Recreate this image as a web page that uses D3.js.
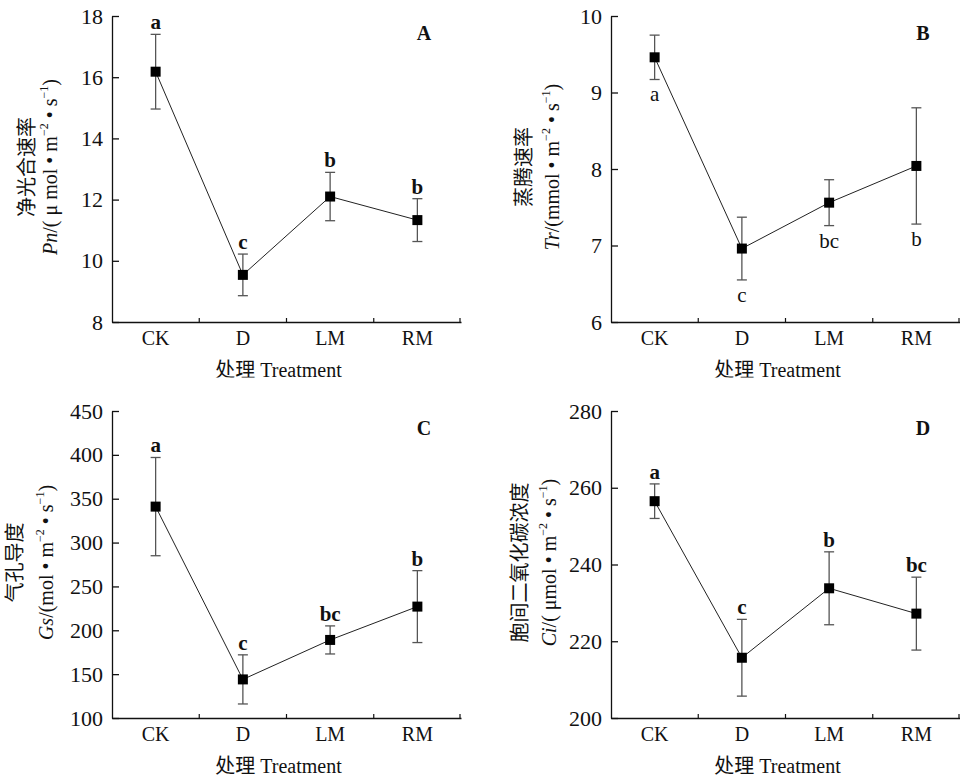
<!DOCTYPE html>
<html>
<head>
<meta charset="utf-8">
<script src="https://cdn.jsdelivr.net/npm/d3@7"></script>
<style>
  body { margin: 0; background: #fff; }
  text { font-family: "Liberation Serif", "Times New Roman", "DejaVu Serif", "Noto Sans CJK SC", serif; fill: #111; }
</style>
</head>
<body>
<div id="chart"></div>
<script>
const categories = ["CK", "D", "LM", "RM"];

// A: net photosynthetic rate
const pnMean = [16.18, 9.54, 12.1, 11.33];
const pnErr = [1.22, 0.68, 0.79, 0.7];
const pnLetters = ["a", "c", "b", "b"];
const pnTicks = [8, 10, 12, 14, 16, 18];

// B: transpiration rate
const trMean = [9.46, 6.96, 7.56, 8.04];
const trErr = [0.29, 0.41, 0.3, 0.76];
const trLetters = ["a", "c", "bc", "b"];
const trTicks = [6, 7, 8, 9, 10];

// C: stomatal conductance
const gsMean = [341, 144, 189, 227];
const gsErr = [56, 28, 16, 41];
const gsLetters = ["a", "c", "bc", "b"];
const gsTicks = [100, 150, 200, 250, 300, 350, 400, 450];

// D: intercellular CO2
const ciMean = [256.5, 215.7, 233.8, 227.2];
const ciErr = [4.5, 10, 9.5, 9.5];
const ciLetters = ["a", "c", "b", "bc"];
const ciTicks = [200, 220, 240, 260, 280];

const width = 960;
const height = 780;

const panels = [
  {id: "A", mean: pnMean, err: pnErr, letters: pnLetters, ticks: pnTicks, below: false,
   left: 112, right: 461, top: 16, bottom: 322, clipY: 377.5,
   zh: "净光合速率", sym: "Pn", unit: "( μ mol • m", lab1x: 27, lab2x: 50},
  {id: "B", mean: trMean, err: trErr, letters: trLetters, ticks: trTicks, below: true,
   left: 611, right: 960, top: 16, bottom: 322, clipY: 377.5,
   zh: "蒸腾速率", sym: "Tr", unit: "(mmol • m", lab1x: 524, lab2x: 552},
  {id: "C", mean: gsMean, err: gsErr, letters: gsLetters, ticks: gsTicks, below: false,
   left: 112, right: 461, top: 411, bottom: 718, clipY: 780,
   zh: "气孔导度", sym: "Gs", unit: "(mol • m", lab1x: 15, lab2x: 46},
  {id: "D", mean: ciMean, err: ciErr, letters: ciLetters, ticks: ciTicks, below: false,
   left: 611, right: 960, top: 411, bottom: 718, clipY: 780,
   zh: "胞间二氧化碳浓度", sym: "Ci", unit: "( μmol • m", lab1x: 520, lab2x: 549}
];

const svg = d3.select("#chart")
  .append("svg")
  .attr("width", width)
  .attr("height", height);

panels.forEach(drawPanel);

function drawPanel(p) {
  const data = categories.map((c, i) => ({cat: c, v: p.mean[i], e: p.err[i], letter: p.letters[i]}));

  const x = d3.scaleBand().domain(categories).range([p.left, p.right]).padding(0);
  const y = d3.scaleLinear().domain(d3.extent(p.ticks)).range([p.bottom, p.top]);
  const cx = d => x(d.cat) + x.bandwidth() / 2;

  const g = svg.append("g");

  // Eixo vertical
  g.append("g")
    .attr("transform", "translate(" + p.left + ",0)")
    .call(d3.axisLeft(y).tickValues(p.ticks).tickFormat(d3.format("d"))
      .tickSizeInner(-7).tickSizeOuter(0).tickPadding(9))
    .call(a => a.selectAll("text").attr("font-size", 22))
    .call(a => a.selectAll("line, path").attr("stroke", "#111").attr("stroke-width", 1.3));

  // Eixo horizontal (labels)
  g.append("g")
    .attr("transform", "translate(0," + p.bottom + ")")
    .call(d3.axisBottom(x).tickSize(0).tickPadding(9))
    .call(a => a.selectAll("text").attr("font-size", 20))
    .call(a => a.select("path").attr("stroke", "#111").attr("stroke-width", 1.3));

  // small inward ticks at category boundaries
  g.append("g")
    .selectAll("line")
    .data(categories.slice(1).map(c => x(c)).concat([x.range()[1] - 1]))
    .join("line")
      .attr("x1", d => d).attr("x2", d => d)
      .attr("y1", p.bottom).attr("y2", p.bottom - 4)
      .attr("stroke", "#111").attr("stroke-width", 1.2);

  // x title, clipped like the source
  const clipId = "clip" + p.id;
  svg.append("clipPath").attr("id", clipId)
    .append("rect").attr("x", 0).attr("y", 0).attr("width", width).attr("height", p.clipY);
  g.append("text")
    .attr("clip-path", "url(#" + clipId + ")")
    .attr("x", (p.left + p.right) / 2 - 8)
    .attr("y", p.bottom + 55)
    .attr("text-anchor", "middle")
    .attr("font-size", 20)
    .text("处理 Treatment");

  // y title, two lines
  const midY = (p.top + p.bottom) / 2 - 2;
  g.append("text")
    .attr("transform", "translate(" + p.lab1x + "," + midY + ") rotate(-90)")
    .attr("text-anchor", "middle")
    .attr("dominant-baseline", "central")
    .attr("font-size", 20)
    .text(p.zh);

  const t2 = g.append("text")
    .attr("transform", "translate(" + p.lab2x + "," + midY + ") rotate(-90)")
    .attr("text-anchor", "middle")
    .attr("dominant-baseline", "central")
    .attr("font-size", 20);
  t2.append("tspan").attr("font-style", "italic").text(p.sym);
  t2.append("tspan").text("/" + p.unit);
  t2.append("tspan").attr("font-size", 12).attr("dy", -6).text("−2");
  t2.append("tspan").attr("dy", 6).text(" • s");
  t2.append("tspan").attr("font-size", 12).attr("dy", -6).text("−1");
  t2.append("tspan").attr("dy", 6).text(")");

  // connecting line
  g.append("path")
    .datum(data)
    .attr("fill", "none")
    .attr("stroke", "#222")
    .attr("stroke-width", 1)
    .attr("d", d3.line().x(cx).y(d => y(d.v)));

  // error bars
  const eb = g.append("g").attr("stroke", "#555").attr("stroke-width", 1.3);
  eb.selectAll(".v").data(data).join("line")
    .attr("x1", cx).attr("x2", cx)
    .attr("y1", d => y(d.v - d.e)).attr("y2", d => y(d.v + d.e));
  eb.selectAll(".top").data(data).join("line")
    .attr("x1", d => cx(d) - 5).attr("x2", d => cx(d) + 5)
    .attr("y1", d => y(d.v + d.e)).attr("y2", d => y(d.v + d.e));
  eb.selectAll(".bot").data(data).join("line")
    .attr("x1", d => cx(d) - 5).attr("x2", d => cx(d) + 5)
    .attr("y1", d => y(d.v - d.e)).attr("y2", d => y(d.v - d.e));

  // markers
  g.append("g")
    .selectAll("rect")
    .data(data)
    .join("rect")
      .attr("x", d => cx(d) - 5)
      .attr("y", d => y(d.v) - 5)
      .attr("width", 10)
      .attr("height", 10)
      .attr("fill", "#000");

  // significance letters
  g.append("g")
    .selectAll("text")
    .data(data)
    .join("text")
      .attr("x", cx)
      .attr("y", d => p.below ? y(d.v - d.e) + 15 : y(d.v + d.e) - 12)
      .attr("text-anchor", "middle")
      .attr("dominant-baseline", "central")
      .attr("font-size", 21)
      .attr("font-weight", p.below ? "normal" : "bold")
      .text(d => d.letter);

  // panel letter
  g.append("text")
    .attr("x", p.right - 37)
    .attr("y", p.top + 17)
    .attr("text-anchor", "middle")
    .attr("dominant-baseline", "central")
    .attr("font-size", 20)
    .attr("font-weight", "bold")
    .text(p.id);
}
</script>
</body>
</html>
